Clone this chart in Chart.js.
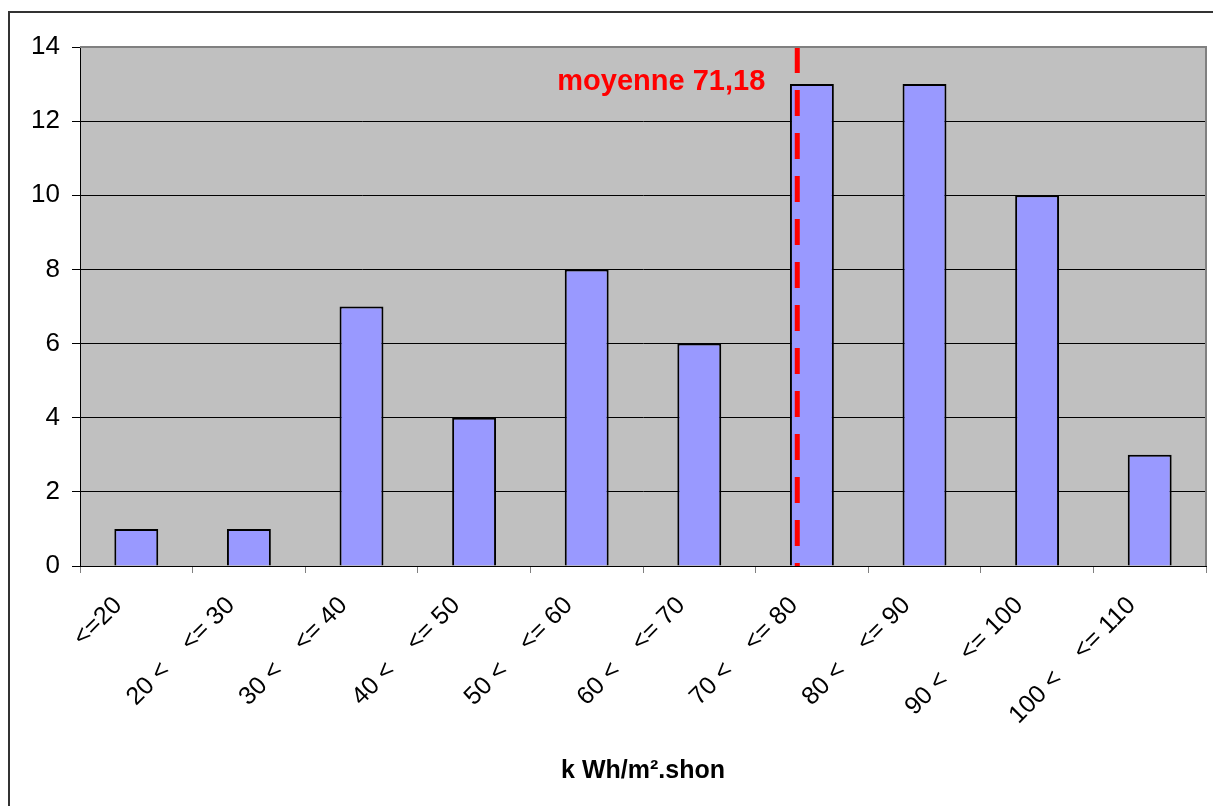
<!DOCTYPE html>
<html>
<head>
<meta charset="utf-8">
<script src="https://cdn.jsdelivr.net/npm/chart.js@4.4.1/dist/chart.umd.min.js"></script>
<style>
  html, body { margin: 0; padding: 0; background: #fff; }
  #wrap { width: 1213px; height: 806px; position: relative; }
</style>
</head>
<body>
<div id="wrap"><canvas id="histo" width="1213" height="806"></canvas></div>
<script>
const categories = ['<=20', '20 <    <= 30', '30 <    <= 40', '40 <    <= 50', '50 <    <= 60',
  '60 <    <= 70', '70 <    <= 80', '80 <    <= 90', '90 <    <= 100', '100 <    <= 110'];
const counts = [1, 1, 7, 4, 8, 6, 13, 13, 10, 3];
const yTicks = [0, 2, 4, 6, 8, 10, 12, 14];
const meanValue = 71.18;
const meanAxisPos = 5.87; // where the line sits on the category axis in the source

const FONT = '"Liberation Sans", Arial, sans-serif';

const plotBack = {
  id: 'plotBack',
  beforeDraw(chart) {
    const { ctx, chartArea: a } = chart;
    ctx.save();
    ctx.fillStyle = '#C0C0C0';
    ctx.fillRect(a.left, a.top, a.right - a.left, a.bottom - a.top);
    // outer frame (top + left only visible)
    ctx.strokeStyle = '#333';
    ctx.lineWidth = 2;
    ctx.beginPath();
    ctx.moveTo(9, chart.height);
    ctx.lineTo(9, 12);
    ctx.lineTo(chart.width, 12);
    ctx.stroke();
    ctx.restore();
  },
  afterDraw(chart) {
    const { ctx, chartArea: a } = chart;
    ctx.save();
    ctx.strokeStyle = '#808080';
    ctx.lineWidth = 2;
    ctx.beginPath();
    ctx.moveTo(a.left, a.top);
    ctx.lineTo(a.right, a.top);
    ctx.lineTo(a.right, a.bottom);
    ctx.stroke();
    ctx.restore();
  }
};

const meanLine = {
  id: 'meanLine',
  afterDatasetsDraw(chart) {
    const { ctx, chartArea: a, scales } = chart;
    const x = scales.x.getPixelForValue(meanAxisPos);
    ctx.save();
    ctx.strokeStyle = '#FF0000';
    ctx.lineWidth = 5;
    ctx.setLineDash([26, 17]);
    ctx.beginPath();
    ctx.moveTo(x, a.top);
    ctx.lineTo(x, a.bottom);
    ctx.stroke();
    ctx.setLineDash([]);
    ctx.fillStyle = '#FF0000';
    ctx.font = 'bold 29px ' + FONT;
    ctx.textAlign = 'right';
    ctx.textBaseline = 'middle';
    ctx.fillText('moyenne ' + meanValue.toFixed(2).replace('.', ','), x - 32, a.top + 35);
    ctx.restore();
  }
};

new Chart(document.getElementById('histo'), {
  type: 'bar',
  data: {
    labels: categories,
    datasets: [{
      data: counts,
      backgroundColor: '#9999FF',
      borderColor: '#000',
      borderWidth: 2,
      categoryPercentage: 1,
      barPercentage: 0.39
    }]
  },
  options: {
    responsive: false,
    animation: false,
    layout: { padding: { top: 47, right: 7, left: 0, bottom: 0 } },
    plugins: {
      legend: { display: false },
      tooltip: { enabled: false }
    },
    scales: {
      x: {
        afterFit(s) { s.height = 240; },
        grid: { drawOnChartArea: false, drawTicks: true, tickLength: 7, color: '#808080' },
        border: { color: '#000', width: 1 },
        ticks: {
          color: '#000',
          font: { family: FONT, size: 25 },
          minRotation: 45,
          maxRotation: 45,
          autoSkip: false,
          padding: 18,
          labelOffset: -18
        },
        title: {
          display: true,
          text: 'k Wh/m².shon',
          color: '#000',
          font: { family: FONT, size: 25, weight: 'bold' },
          padding: { top: 0, bottom: 20 }
        }
      },
      y: {
        min: 0,
        max: 14,
        afterFit(s) { s.width = 80; },
        afterBuildTicks(s) { s.ticks = yTicks.map(v => ({ value: v })); },
        grid: { color: '#000', lineWidth: 1, tickLength: 8 },
        border: { color: '#000', width: 1 },
        ticks: {
          color: '#000',
          font: { family: FONT, size: 26 },
          padding: 12
        }
      }
    }
  },
  plugins: [plotBack, meanLine]
});
</script>
</body>
</html>
